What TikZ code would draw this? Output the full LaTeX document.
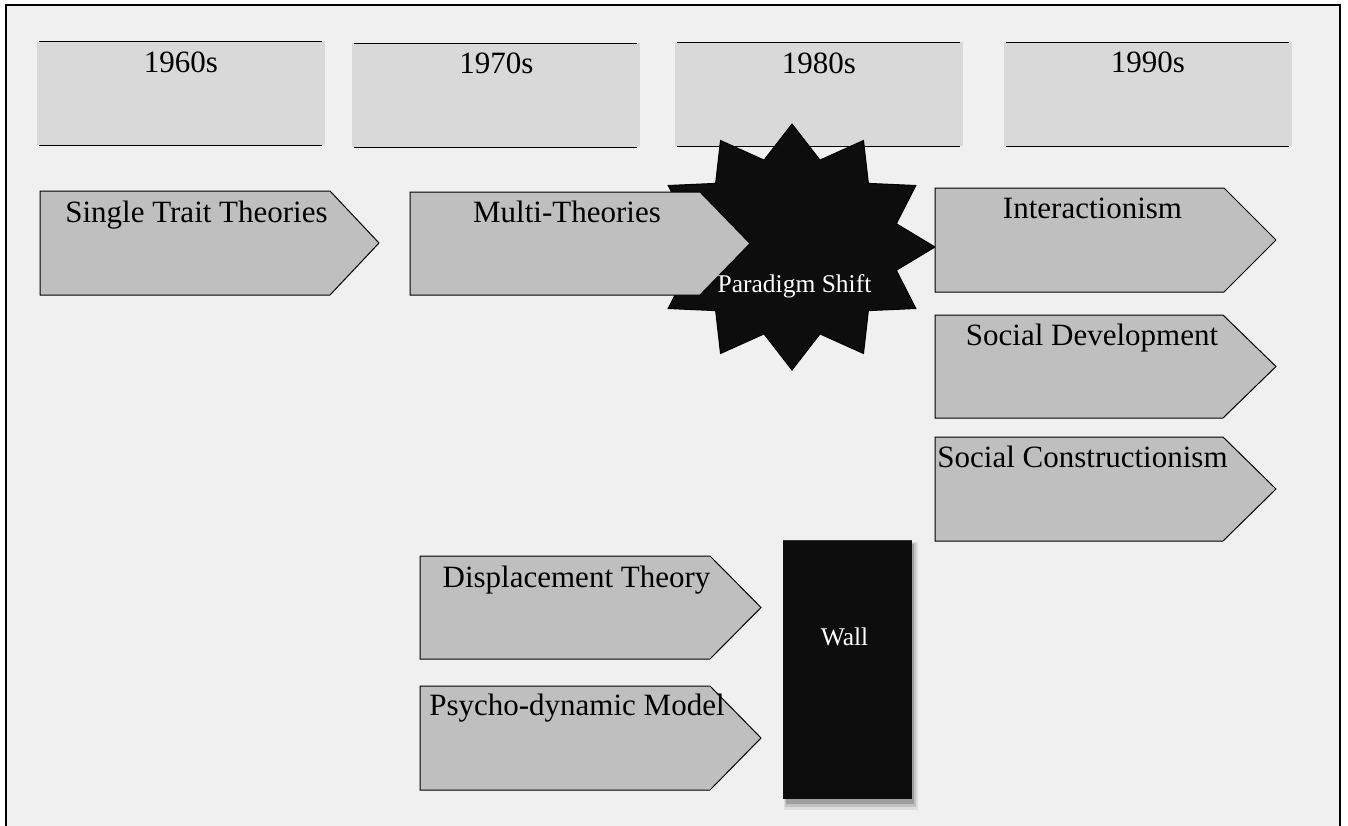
\documentclass[tikz,border=0pt]{standalone}
\usepackage{fontspec}
\setmainfont{Liberation Serif}
\definecolor{bgfill}{HTML}{F0F0F0}
\definecolor{yearfill}{HTML}{D9D9D9}
\definecolor{arrowfill}{HTML}{BFBFBF}
\definecolor{darkfill}{HTML}{0D0D0D}
\begin{document}
\begin{tikzpicture}[x=1pt,y=-1pt,
  yearbox/.style={fill=yearfill},
  yearline/.style={draw=black, line width=1pt},
  arrowbox/.style={fill=arrowfill, draw=black, line width=1pt, line join=miter},
  darkshape/.style={fill=darkfill, draw=black, line width=1pt, line join=miter},
  lbl/.style={anchor=base, inner sep=0pt, font=\fontsize{31}{36}\selectfont},
  wlbl/.style={anchor=base, inner sep=0pt, text=white, font=\fontsize{25.5}{30}\selectfont}]
\useasboundingbox (0,0) rectangle (1348,825);
\fill[white] (0,0) rectangle (1348,825);
\fill[bgfill] (6,5) rectangle (1340,830);
\draw[line width=2.5pt] (6,835) -- (6,5) -- (1340,5) -- (1340,835);

% decade boxes
\fill[yearbox] (37,41) rectangle (325,145);
\draw[yearline] (39,41) -- (322,41) (39,145) -- (322,145);
\node[lbl] (y60) at (181,72) {1960s};

\fill[yearbox] (352,43) rectangle (640,147);
\draw[yearline] (354,43) -- (637,43) (354,147) -- (637,147);
\node[lbl] (y70) at (496.5,73) {1970s};

\fill[yearbox] (675,42) rectangle (963,146);
\draw[yearline] (677,42) -- (960,42) (677,146) -- (960,146);
\node[lbl] (y80) at (819,73) {1980s};

\fill[yearbox] (1004,42) rectangle (1292,146);
\draw[yearline] (1006,42) -- (1289,42) (1006,146) -- (1289,146);
\node[lbl] (y90) at (1148,72) {1990s};

% 1960s
\draw[arrowbox] (40,191) -- (330,191) -- (379,243) -- (330,295) -- (40,295) -- cycle;
\node[lbl] (single) at (196.5,222) {Single Trait Theories};

% paradigm shift star
\begin{scope}[shift={(792,247)}]
\draw[darkshape] (0:143 and 123) \foreach \i in {0,...,11} { -- (\i*30+15:108 and 90) -- (\i*30+30:143 and 123) } -- cycle;
\end{scope}

% 1970s
\draw[arrowbox] (410,192) -- (700,192) -- (750,243.5) -- (700,295) -- (410,295) -- cycle;
\node[lbl] (multi) at (567,222) {Multi-Theories};

\node[wlbl] (shift) at (794.5,292) {Paradigm Shift};

% 1990s
\draw[arrowbox] (935,188) -- (1224,188) -- (1276,240) -- (1224,292) -- (935,292) -- cycle;
\node[lbl] (inter) at (1092.5,218) {Interactionism};

\draw[arrowbox] (935,315) -- (1223,315) -- (1276,366.5) -- (1223,418) -- (935,418) -- cycle;
\node[lbl] (socdev) at (1092,345) {Social Development};

\draw[arrowbox] (935,437) -- (1223,437) -- (1276,489) -- (1223,541) -- (935,541) -- cycle;
\node[lbl] (soccon) at (1082.5,467) {Social Constructionism};

% lower 1970s
\draw[arrowbox] (420,556) -- (710,556) -- (761,607.5) -- (710,659) -- (420,659) -- cycle;
\node[lbl] (displ) at (576.5,587) {Displacement Theory};

\draw[arrowbox] (420,686) -- (710,686) -- (761,738) -- (710,790) -- (420,790) -- cycle;
\node[lbl] (psycho) at (577,715) {Psycho-dynamic Model};

% wall with soft shadow
\fill[black, opacity=0.08] (784,542) rectangle (918,810);
\fill[black, opacity=0.12] (785,543) rectangle (916,807);
\fill[black, opacity=0.18] (786,544) rectangle (914,804);
\fill[darkfill] (783,540) rectangle (912,799);
\draw[draw=black!80, line width=0.8pt] (783,540) -- (912,540);
\node[wlbl] (wall) at (844.5,645) {Wall};
\end{tikzpicture}
\end{document}
